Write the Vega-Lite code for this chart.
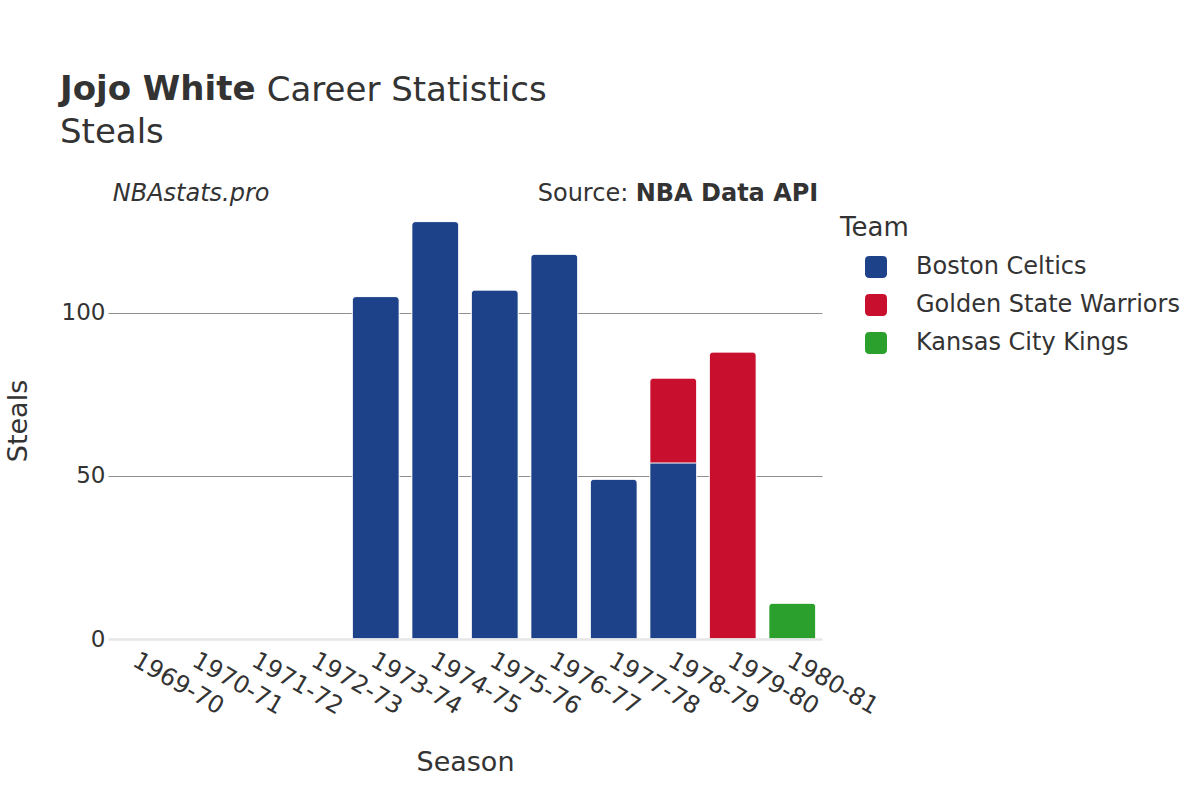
{
  "$schema": "https://vega.github.io/schema/vega-lite/v6.json",
  "width": 714,
  "height": 437,
  "autosize": {"type": "none"},
  "padding": {"left": 108, "top": 202, "right": 378, "bottom": 161},
  "background": "white",
  "config": {
    "font": "DejaVu Sans",
    "view": {"stroke": null},
    "axis": {"labelColor": "#333333", "titleColor": "#333333", "labelFont": "DejaVu Sans", "titleFont": "DejaVu Sans", "titleFontWeight": "normal"},
    "legend": {"labelFont": "DejaVu Sans", "titleFont": "DejaVu Sans"}
  },
  "title": {
    "text": "Jojo White",
    "subtitle": "Steals",
    "anchor": "start",
    "frame": "group",
    "dx": -48,
    "offset": -76,
    "fontSize": 34,
    "fontWeight": "bold",
    "color": "#333333",
    "subtitleFontSize": 34,
    "subtitleColor": "#333333",
    "subtitleFontWeight": "normal",
    "subtitlePadding": 9,
    "font": "DejaVu Sans",
    "subtitleFont": "DejaVu Sans"
  },
  "layer": [
    {
      "data": {
        "values": [
          {"Season": "1969-70", "Team": "Boston Celtics", "Steals": null},
          {"Season": "1970-71", "Team": "Boston Celtics", "Steals": null},
          {"Season": "1971-72", "Team": "Boston Celtics", "Steals": null},
          {"Season": "1972-73", "Team": "Boston Celtics", "Steals": null},
          {"Season": "1973-74", "Team": "Boston Celtics", "Steals": 105},
          {"Season": "1974-75", "Team": "Boston Celtics", "Steals": 128},
          {"Season": "1975-76", "Team": "Boston Celtics", "Steals": 107},
          {"Season": "1976-77", "Team": "Boston Celtics", "Steals": 118},
          {"Season": "1977-78", "Team": "Boston Celtics", "Steals": 49},
          {"Season": "1978-79", "Team": "Boston Celtics", "Steals": 54},
          {"Season": "1978-79", "Team": "Golden State Warriors", "Steals": 26},
          {"Season": "1979-80", "Team": "Golden State Warriors", "Steals": 88},
          {"Season": "1980-81", "Team": "Kansas City Kings", "Steals": 11}
        ]
      },
      "mark": {
        "type": "bar",
        "cornerRadiusTopLeft": {"expr": "datum.Season === '1978-79' && datum.Team === 'Boston Celtics' ? 0 : 4"},
        "cornerRadiusTopRight": {"expr": "datum.Season === '1978-79' && datum.Team === 'Boston Celtics' ? 0 : 4"},
        "stroke": "white",
        "strokeWidth": 0.8
      },
      "encoding": {
        "x": {
          "field": "Season",
          "type": "nominal",
          "sort": null,
          "scale": {
            "domain": ["1969-70", "1970-71", "1971-72", "1972-73", "1973-74", "1974-75", "1975-76", "1976-77", "1977-78", "1978-79", "1979-80", "1980-81"],
            "paddingInner": 0.21,
            "paddingOuter": 0.105
          },
          "axis": {
            "title": "Season",
            "titleFontSize": 27,
            "titlePadding": 31,
            "labelFontSize": 24,
            "labelAngle": 30,
            "labelAlign": "left",
            "labelBaseline": "top",
            "labelPadding": 9,
            "labelOffset": 3,
            "ticks": false,
            "grid": false,
            "domain": true,
            "domainColor": "#e6e6e6",
            "domainWidth": 2.5,
            "zindex": 1
          }
        },
        "y": {
          "field": "Steals",
          "type": "quantitative",
          "stack": "zero",
          "scale": {"domain": [0, 134], "nice": false, "zero": true},
          "axis": {
            "title": "Steals",
            "titleFontSize": 27,
            "titlePadding": 29,
            "labelFontSize": 23,
            "labelPadding": 3,
            "values": [0, 50, 100],
            "ticks": false,
            "domain": false,
            "grid": true,
            "gridColor": {"condition": {"test": "datum.value === 0", "value": "transparent"}, "value": "#8f8f8f"},
            "gridWidth": 1
          }
        },
        "color": {
          "field": "Team",
          "type": "nominal",
          "scale": {
            "domain": ["Boston Celtics", "Golden State Warriors", "Kansas City Kings"],
            "range": ["#1d428a", "#c8102e", "#2ca02c"]
          },
          "legend": {
            "title": "Team",
            "orient": "none",
            "legendX": 732,
            "legendY": 13,
            "titleFontSize": 26,
            "titleFontWeight": "normal",
            "titleColor": "#333333",
            "titlePadding": 14,
            "labelFontSize": 24,
            "labelColor": "#333333",
            "labelLimit": 400,
            "labelOffset": 28,
            "symbolOffset": 24,
            "symbolType": "M -1 -0.6 Q -1 -1 -0.6 -1 L 0.6 -1 Q 1 -1 1 -0.6 L 1 0.6 Q 1 1 0.6 1 L -0.6 1 Q -1 1 -1 0.6 Z",
            "symbolSize": 484,
            "symbolStrokeWidth": 0,
            "symbolOpacity": 1,
            "rowPadding": 14
          }
        },
        "order": {"field": "Team", "sort": "ascending"}
      }
    },
    {
      "data": {"values": [{"label": "Career Statistics"}]},
      "mark": {"type": "text", "align": "left", "baseline": "alphabetic", "fontSize": 34, "color": "#333333", "dx": 129},
      "encoding": {
        "x": {"datum": "1969-70", "type": "nominal"},
        "y": {"datum": 165, "type": "quantitative"},
        "text": {"field": "label"}
      }
    },
    {
      "data": {"values": [{"label": "NBAstats.pro"}]},
      "mark": {"type": "text", "align": "left", "baseline": "alphabetic", "fontSize": 24, "fontStyle": "italic", "color": "#333333", "dx": -25},
      "encoding": {
        "x": {"datum": "1969-70", "type": "nominal"},
        "y": {"datum": 134.4, "type": "quantitative"},
        "text": {"field": "label"}
      }
    },
    {
      "data": {"values": [{"label": "Source:"}]},
      "mark": {"type": "text", "align": "right", "baseline": "alphabetic", "fontSize": 24, "color": "#333333", "dx": -164},
      "encoding": {
        "x": {"datum": "1980-81", "type": "nominal"},
        "y": {"datum": 134.4, "type": "quantitative"},
        "text": {"field": "label"}
      }
    },
    {
      "data": {"values": [{"label": "NBA Data API"}]},
      "mark": {"type": "text", "align": "right", "baseline": "alphabetic", "fontSize": 24, "fontWeight": "bold", "color": "#333333", "dx": 26},
      "encoding": {
        "x": {"datum": "1980-81", "type": "nominal"},
        "y": {"datum": 134.4, "type": "quantitative"},
        "text": {"field": "label"}
      }
    }
  ]
}
